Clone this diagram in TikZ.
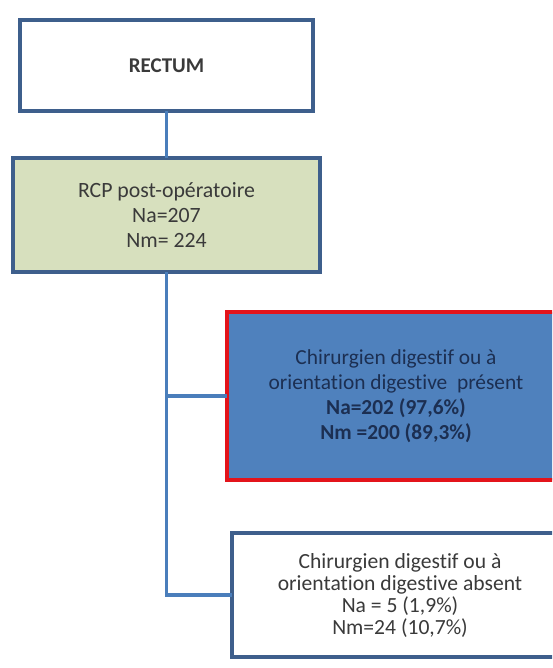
\documentclass[tikz,border=0pt]{standalone}
\usepackage{fontspec}
\setmainfont[Ligatures=CommonOff]{Carlito}
\definecolor{frameblue}{HTML}{3E5F8C}
\definecolor{linkblue}{HTML}{4A7EBB}
\definecolor{boxgreen}{HTML}{D7E0BE}
\definecolor{boxblue}{HTML}{4F81BD}
\definecolor{framered}{HTML}{E3141B}
\definecolor{txtgray}{HTML}{3A3A3A}
\definecolor{txtnavy}{HTML}{1C2F52}
\tikzset{
  flowbox/.style={rectangle, draw=frameblue, line width=4.5pt, align=center, inner sep=0pt, outer sep=0pt,
    font=\fontsize{21.8}{25}\selectfont, text=txtgray},
  link/.style={draw=linkblue, line width=3.5pt}
}
\begin{document}
\begin{tikzpicture}[x=1pt,y=-1pt]
\useasboundingbox (0,0) rectangle (552,668);
\clip (0,0) rectangle (552,668);
\fill[white] (0,0) rectangle (552,668);
\node[flowbox, fill=white, minimum width=293pt, minimum height=91pt, font=\bfseries\fontsize{21}{24}\selectfont] (rectum) at (166.5,65.5) {RECTUM};
\node[flowbox, fill=boxgreen, minimum width=307pt, minimum height=114pt] (rcp) at (166.5,215) {RCP post-opératoire\\Na=207\\Nm= 224};
\node[flowbox, fill=boxblue, draw=framered, text=txtnavy, minimum width=338pt, minimum height=168pt, font=\fontsize{21.4}{25}\selectfont] (present) at (396,396)
  {Chirurgien digestif ou à\\orientation digestive\ \ présent\\\textbf{Na=202 (97,6\%)}\\\textbf{Nm =200 (89,3\%)}};
\node[flowbox, fill=white, minimum width=336pt, minimum height=124pt, font=\fontsize{21.6}{22}\selectfont] (absent) at (400,595)
  {Chirurgien digestif ou à\\orientation digestive absent\\Na = 5 (1,9\%)\\Nm=24 (10,7\%)};
\draw[link] (rectum.south) -- (rcp.north);
\draw[link] (rcp.south) |- (absent.west);
\draw[link] (rcp.south |- present.west) -- (present.west);
\end{tikzpicture}
\end{document}
